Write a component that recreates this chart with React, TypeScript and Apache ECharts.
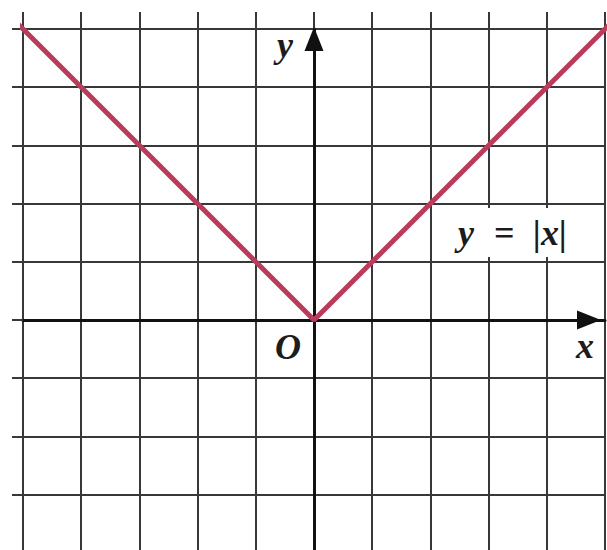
import React, { useEffect, useRef } from "react";
import * as echarts from "echarts";

// Function y = |x| sampled at its corner and ends
const lineX = [-5.1, 0, 5.1];
const lineY = [5.1, 0, 5.1];

// Axis extents (grid units)
const xRange = [-5, 5];
const yRange = [-4, 5];

const gridColor = "#383838";
const axisColor = "#111111";
const curveColor = "#b93c5e";
const serif = "Liberation Serif";

export default function App() {
  const ref = useRef<HTMLDivElement>(null);
  useEffect(() => {
    if (!ref.current) return;
    const chart = echarts.init(ref.current, undefined, { renderer: "svg" });
    const unit = 58.2;
    const gridLine = { color: gridColor, width: 2 };
    const textStyle = (text: string, x: number, y: number) => ({
      type: "text",
      x,
      y,
      z: 100,
      style: {
        text,
        fill: "#1c1c1c",
        fontFamily: serif,
        fontStyle: "italic",
        fontWeight: "bold",
        fontSize: 36,
        textAlign: "center",
        textVerticalAlign: "middle",
      },
    });
    chart.setOption({
      animation: false,
      backgroundColor: "#ffffff",
      grid: {
        left: 23,
        top: 29,
        width: unit * (xRange[1] - xRange[0]),
        height: unit * (yRange[1] - yRange[0]),
        containLabel: false,
      },
      xAxis: [
        {
          type: "value",
          position: "top",
          min: xRange[0],
          max: xRange[1],
          interval: 1,
          axisLine: { show: false, onZero: false },
          axisTick: { show: true, inside: false, length: 17, lineStyle: gridLine },
          axisLabel: { show: false },
          splitLine: { show: true, lineStyle: gridLine },
        },
        {
          type: "value",
          position: "bottom",
          min: xRange[0],
          max: xRange[1],
          interval: 1,
          axisLine: {
            show: true,
            onZero: true,
            onZeroAxisIndex: 0,
            symbol: ["none", "triangle"],
            symbolSize: [19, 24],
            symbolOffset: [0, -16],
            lineStyle: { color: axisColor, width: 3 },
          },
          axisTick: { show: false },
          axisLabel: { show: false },
          splitLine: { show: false },
        },
      ],
      yAxis: [
        {
          type: "value",
          position: "left",
          min: yRange[0],
          max: yRange[1],
          interval: 1,
          axisLine: { show: false, onZero: false },
          axisTick: { show: true, inside: false, length: 11, lineStyle: gridLine },
          axisLabel: { show: false },
          splitLine: { show: true, lineStyle: gridLine },
        },
        {
          type: "value",
          position: "right",
          min: yRange[0],
          max: yRange[1],
          interval: 1,
          axisLine: {
            show: true,
            onZero: true,
            onZeroAxisIndex: 0,
            symbol: ["none", "triangle"],
            symbolSize: [19, 24],
            symbolOffset: [0, -10],
            lineStyle: { color: axisColor, width: 3 },
          },
          axisTick: { show: false },
          axisLabel: { show: false },
          splitLine: { show: false },
        },
      ],
      series: [
        {
          type: "line",
          xAxisIndex: 0,
          yAxisIndex: 0,
          data: lineX.map((x, i) => [x, lineY[i]]),
          showSymbol: false,
          clip: false,
          lineStyle: { color: curveColor, width: 5 },
          z: 10,
        },
      ],
      graphic: [
        {
          type: "rect",
          shape: { x: 441, y: 208, width: 150, height: 49 },
          style: { fill: "#ffffff" },
          z: 50,
        },
        textStyle("y", 466, 233),
        textStyle("=", 504, 233),
        textStyle("|x|", 550, 233),
        textStyle("y", 285, 45),
        textStyle("O", 288, 347),
        textStyle("x", 585, 346),
      ],
    });
    return () => chart.dispose();
  }, []);
  return (
    <div
      ref={ref}
      style={{ position: "fixed", left: 0, top: 0, width: 607, height: 560 }}
    />
  );
}
